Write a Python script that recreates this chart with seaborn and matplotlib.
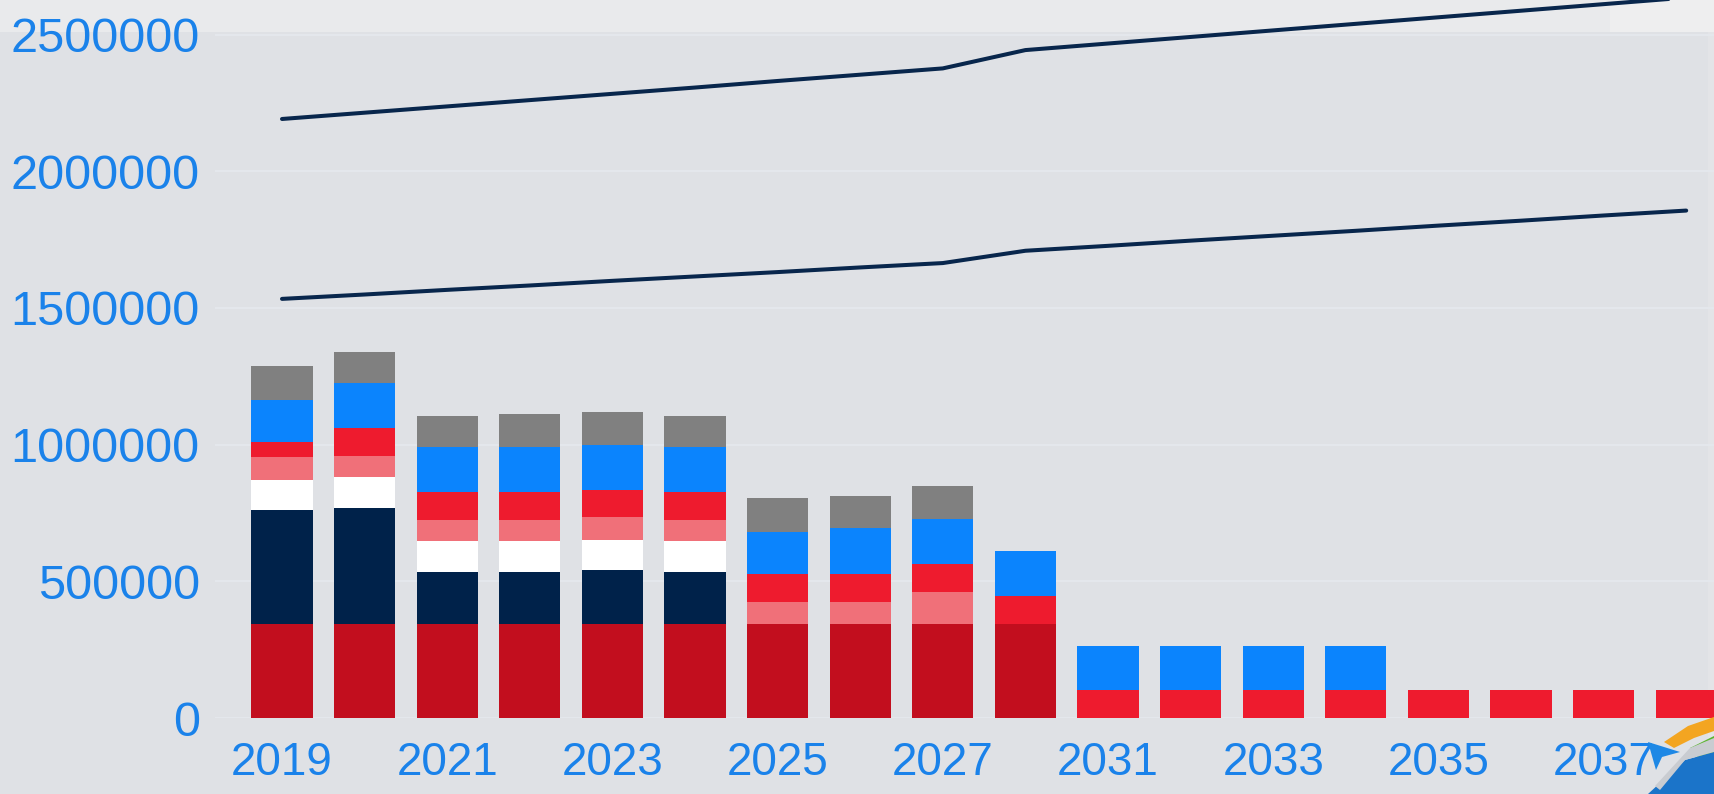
import numpy as np
import pandas as pd
import matplotlib
matplotlib.use("Agg")
import matplotlib.pyplot as plt
import seaborn as sns
from matplotlib.patches import Rectangle, Polygon

# ---------------- data ----------------
years = ["2019", "2020", "2021", "2022", "2023", "2024", "2025", "2026", "2027",
         "2030", "2031", "2032", "2033", "2034", "2035", "2036", "2037", "2038"]

s_darkred = [345000, 345000, 345000, 345000, 345000, 345000, 345000, 345000, 345000,
             345000, 0, 0, 0, 0, 0, 0, 0, 0]
s_navy = [417000, 423000, 189000, 189000, 197000, 189000, 0, 0, 0,
          0, 0, 0, 0, 0, 0, 0, 0, 0]
s_white = [110000, 112000, 112000, 112000, 110000, 112000, 0, 0, 0,
           0, 0, 0, 0, 0, 0, 0, 0, 0]
s_pink = [81000, 79000, 79000, 79000, 82000, 79000, 80000, 80000, 116000,
          0, 0, 0, 0, 0, 0, 0, 0, 0]
s_red = [56000, 102000, 102000, 102000, 101000, 102000, 100000, 100000, 103000,
         103000, 102000, 102000, 102000, 102000, 102000, 102000, 102000, 102000]
s_blue = [155000, 164000, 164000, 164000, 165000, 164000, 156000, 170000, 164000,
          162000, 161000, 161000, 161000, 161000, 0, 0, 0, 0]
s_gray = [125000, 114000, 115000, 122000, 121000, 115000, 125000, 118000, 122000,
          0, 0, 0, 0, 0, 0, 0, 0, 0]

line_upper = [2191000, 2214000, 2237000, 2260000, 2283000, 2306000, 2330000, 2353000, 2376000,
              2443000, 2467000, 2491000, 2515000, 2539000, 2563000, 2587000, 2611000, 2635000]
line_lower = [1533000, 1549000, 1566000, 1582000, 1599000, 1615000, 1631000, 1648000, 1664000,
              1709000, 1727000, 1746000, 1764000, 1782000, 1801000, 1819000, 1838000, 1856000]

yticks = [0, 500000, 1000000, 1500000, 2000000, 2500000]

# ---------------- style ----------------
series = [s_darkred, s_navy, s_white, s_pink, s_red, s_blue, s_gray]
colors = ["#c20e1e", "#00224a", "#ffffff", "#f07079", "#ee1b2e", "#0b84fd", "#808080"]
bg = "#dfe1e5"
tick_color = "#1a82ea"
line_color = "#08264c"

sns.set_theme(style="white")
plt.rcParams["font.family"] = ["Liberation Sans", "DejaVu Sans"]

W, H = 1714, 794
fig = plt.figure(figsize=(W / 100, H / 100), dpi=100, facecolor=bg)


def px_rect(x0, y0, x1, y1, color, z=-5):
    fig.patches.append(Rectangle((x0 / W, 1 - y1 / H), (x1 - x0) / W, (y1 - y0) / H,
                                 transform=fig.transFigure, facecolor=color,
                                 edgecolor="none", zorder=z))


def px_poly(pts, color, z=10):
    fig.patches.append(Polygon([(x / W, 1 - y / H) for x, y in pts], closed=True,
                               transform=fig.transFigure, facecolor=color,
                               edgecolor="none", zorder=z))


# lighter bands of the cropped surroundings
px_rect(0, 0, 1610, 32, "#e9eaec")
px_rect(1610, 0, W, 32, "#eeeeef")
px_rect(1708, 32, W, H, "#e3e4e7")

ax_left, ax_right, ax_top, ax_bot = 215, W, 0, 718
ax = fig.add_axes([ax_left / W, (H - ax_bot) / H, (ax_right - ax_left) / W, (ax_bot - ax_top) / H])
ax.set_facecolor("none")

n = len(years)
cum = np.cumsum(np.array(series, dtype=float), axis=0)
df = pd.DataFrame({"year": years})
# draw stacked bars from the top layer down, so each cumulative bar shows its own segment
for i in range(len(series) - 1, -1, -1):
    vals = cum[i].copy()
    mask = np.array(series[i]) > 0
    vals[~mask] = np.nan
    df["v"] = vals
    sns.barplot(data=df, x="year", y="v", order=years, color=colors[i], saturation=1,
                width=0.74, linewidth=0, errorbar=None, ax=ax, zorder=3)

pos = np.arange(n)
ldf = pd.DataFrame({"pos": pos, "upper": line_upper, "lower": line_lower})
sns.lineplot(data=ldf, x="pos", y="upper", color=line_color, linewidth=2.9, ax=ax, zorder=4,
             solid_capstyle="round")
sns.lineplot(data=ldf, x="pos", y="lower", color=line_color, linewidth=2.9, ax=ax, zorder=4,
             solid_capstyle="round")

# scales
px_per_cat = 82.6
x0_px = 282
ax.set_xlim((ax_left - x0_px) / px_per_cat, (ax_right - x0_px) / px_per_cat)
val_per_px = 500000 / 136.7
ax.set_ylim(0, (ax_bot - ax_top) * val_per_px)

ax.set_yticks(yticks)
ax.set_yticklabels([str(v) for v in yticks])
ax.set_xticks(pos[::2])
ax.set_xticklabels(years[::2])
ax.tick_params(axis="both", length=0, labelcolor=tick_color)
ax.tick_params(axis="y", pad=11, labelsize=35)
ax.tick_params(axis="x", pad=16.5, labelsize=33)
ax.set_xlabel("")
ax.set_ylabel("")
for s in ax.spines.values():
    s.set_visible(False)

ax.grid(False)
for v in yticks:
    ax.axhline(v, color="#e4e7ec", linewidth=1.5, zorder=1)

# partial logo in the bottom-right corner
px_poly([(1664, 742), (1688, 726), (1714, 717), (1714, 731), (1694, 738), (1674, 748)], "#f3a521")
px_poly([(1690, 748), (1714, 736), (1714, 760), (1700, 760)], "#5cb531")
px_poly([(1648, 794), (1685, 760), (1714, 752), (1714, 794)], "#1b74c9")
px_poly([(1655, 786), (1690, 748), (1714, 738), (1714, 752), (1685, 760), (1660, 790)], "#c9ccd1")
px_poly([(1648, 742), (1680, 752), (1662, 757), (1656, 770)], "#1e88e5")

fig.savefig("out.png", dpi=100, facecolor=bg)
